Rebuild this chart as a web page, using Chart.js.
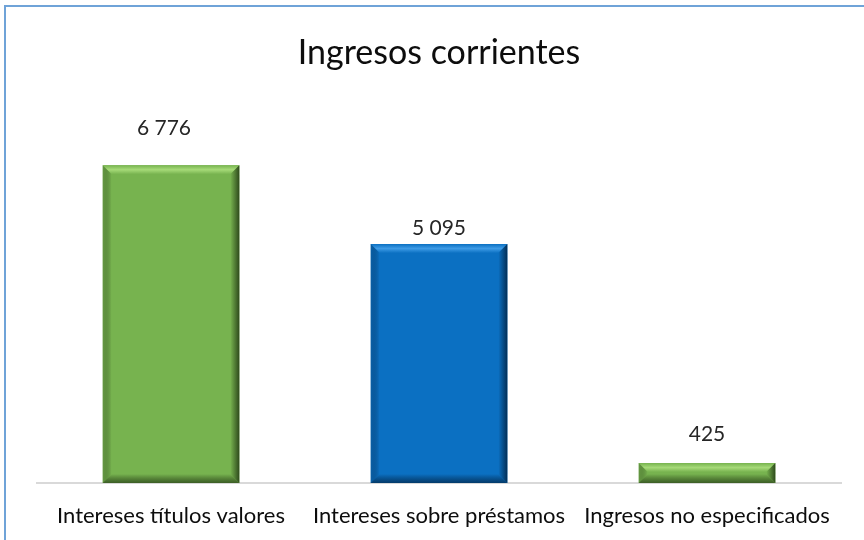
<!DOCTYPE html>
<html>
<head>
<meta charset="utf-8">
<script src="https://cdn.jsdelivr.net/npm/chart.js@4"></script>
<style>
  html, body { margin: 0; padding: 0; background: #fff; }
  #wrap { position: relative; width: 864px; height: 540px; overflow: hidden; }
  #frame { position: absolute; left: 4px; top: 5px; width: 900px; height: 600px;
           border-top: 2px solid #6FA3D8; border-left: 2px solid #6FA3D8; }
  canvas { position: absolute; left: 0; top: 0; }
</style>
</head>
<body>
<div id="wrap">
  <div id="frame"></div>
  <canvas id="chart" width="864" height="540"></canvas>
</div>
<script>
const categories = ["Intereses títulos valores", "Intereses sobre préstamos", "Ingresos no especificados"];
const values = [6776, 5095, 425];
const valueLabels = ["6 776", "5 095", "425"];

// colores de cada barra: cara, bisel claro, bisel oscuro
const faceColors = ["#77B34F", "#0B70C2", "#77B34F"];
const lightColors = ["#A6DA78", "#3E9BE6", "#A6DA78"];
const darkColors = ["#2E4A1C", "#032E55", "#2E4A1C"];
const labelLift = [37, 16, 29]; // separación etiqueta-barra, como en el original

// dibuja el bisel sobre cada barra
const bevel = {
  id: "bevel",
  afterDatasetsDraw(chart) {
    const { ctx } = chart;
    const meta = chart.getDatasetMeta(0);
    meta.data.forEach((bar, i) => {
      const { x, y, width, base } = bar.getProps(["x", "y", "width", "base"], true);
      const l = x - width / 2, r = x + width / 2, t = y, b = base;
      const s = Math.min(9, (b - t) / 2);
      ctx.save();
      // arriba
      let g = ctx.createLinearGradient(0, t, 0, t + s);
      g.addColorStop(0, faceColors[i]);
      g.addColorStop(0.5, lightColors[i]);
      g.addColorStop(1, faceColors[i]);
      quad(ctx, [[l, t], [r, t], [r - s, t + s], [l + s, t + s]], g);
      // izquierda
      g = ctx.createLinearGradient(l, 0, l + s, 0);
      g.addColorStop(0, darkColors[i] + "40");
      g.addColorStop(1, faceColors[i]);
      quad(ctx, [[l, t], [l + s, t + s], [l + s, b - s], [l, b]], g);
      // derecha
      g = ctx.createLinearGradient(r - s, 0, r, 0);
      g.addColorStop(0, faceColors[i]);
      g.addColorStop(1, darkColors[i]);
      quad(ctx, [[r, t], [r, b], [r - s, b - s], [r - s, t + s]], g);
      // abajo
      g = ctx.createLinearGradient(0, b - s, 0, b);
      g.addColorStop(0, faceColors[i]);
      g.addColorStop(1, darkColors[i] + "CC");
      quad(ctx, [[l, b], [l + s, b - s], [r - s, b - s], [r, b]], g);
      ctx.restore();

      // etiqueta del valor
      ctx.save();
      ctx.font = "21px Lato";
      ctx.fillStyle = "#262626";
      ctx.textAlign = "center";
      ctx.textBaseline = "middle";
      ctx.fillText(valueLabels[i], x - 7 * (i === 0), t - labelLift[i]);
      ctx.restore();
    });
  }
};

function quad(ctx, pts, fill) {
  ctx.beginPath();
  ctx.moveTo(pts[0][0], pts[0][1]);
  for (let k = 1; k < pts.length; k++) ctx.lineTo(pts[k][0], pts[k][1]);
  ctx.closePath();
  ctx.fillStyle = fill;
  ctx.fill();
}

new Chart(document.getElementById("chart").getContext("2d"), {
  type: "bar",
  data: {
    labels: categories,
    datasets: [{
      data: values,
      backgroundColor: faceColors,
      borderWidth: 0,
      barPercentage: 0.51,
      categoryPercentage: 1
    }]
  },
  options: {
    responsive: false,
    animation: false,
    events: [],
    layout: { padding: { left: 37, right: 23, bottom: 0 } },
    plugins: {
      legend: { display: false },
      tooltip: { enabled: false },
      title: {
        display: true,
        text: "Ingresos corrientes",
        color: "#0D0D0D",
        font: { family: "Lato", size: 34, weight: "normal" },
        padding: { top: 33, bottom: 34 }
      }
    },
    scales: {
      x: {
        grid: { display: false, drawTicks: false },
        border: { display: true, color: "#D9D9D9", width: 2 },
        ticks: { color: "#0D0D0D", font: { family: "Lato", size: 22 }, padding: 20, maxRotation: 0, autoSkip: false },
        afterFit(scale) { scale.height = 57; }
      },
      y: { display: false, min: 0, max: 8000 }
    }
  },
  plugins: [bevel]
});
</script>
</body>
</html>
